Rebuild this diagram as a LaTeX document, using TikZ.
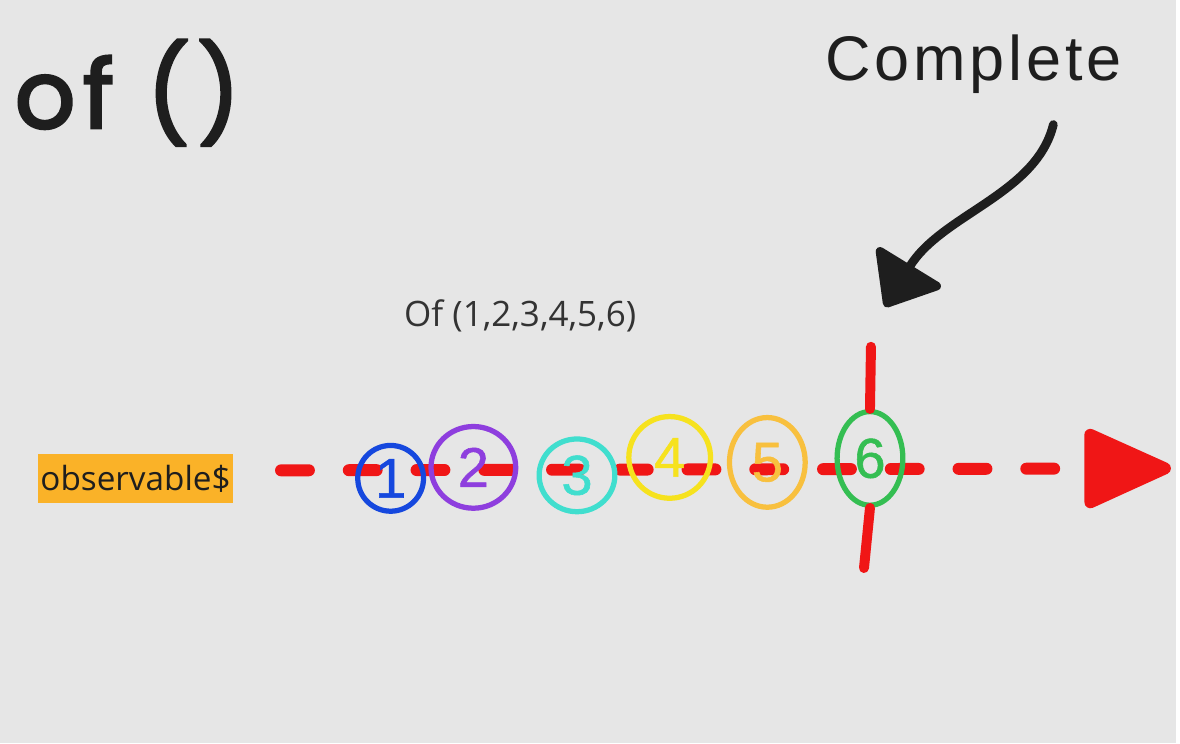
\documentclass[tikz,border=0pt]{standalone}
\usepackage{fontspec}
\setmainfont{Open Sans}
\newfontfamily\markerfont{Poppins}[FakeBold=3, LetterSpace=8]
\newfontfamily\penfont{Liberation Sans}[LetterSpace=6]
\newfontfamily\digitfont{Liberation Sans}[FakeBold=1]
\usetikzlibrary{arrows.meta,shapes.geometric}

\definecolor{paper}{RGB}{230,230,230}
\definecolor{ink}{RGB}{30,30,30}
\definecolor{txtgray}{RGB}{51,51,51}
\definecolor{streamred}{RGB}{240,22,22}
\definecolor{obsorange}{RGB}{250,178,40}
\definecolor{mblue}{RGB}{22,72,222}
\definecolor{mpurple}{RGB}{142,62,222}
\definecolor{mcyan}{RGB}{64,222,206}
\definecolor{myellow}{RGB}{246,226,30}
\definecolor{morange}{RGB}{248,192,62}
\definecolor{mgreen}{RGB}{52,190,82}

\begin{document}
\begin{tikzpicture}[x=0.02cm,y=-0.02cm]
            \tikzstyle{marble} = [ellipse, line width=3pt, inner sep=0pt, font=\digitfont\fontsize{32}{32}\selectfont]
            \tikzstyle{timeline} = [draw=streamred, line width=0.24cm, line cap=round, dash pattern=on 0.56cm off 0.8cm, -{Triangle[length=1.92cm,width=1.66cm,round]}]
            \tikzstyle{stopline} = [draw=streamred, line width=0.2cm, line cap=round]
            \tikzstyle{pointer} = [draw=ink, line width=5pt, line cap=round, -{Triangle[length=1.04cm,width=1.66cm,round]}]

            \fill[paper] (0,0) rectangle (1180,746);

            \node (title) at (128,93) [text=ink, font=\markerfont\fontsize{54}{60}\selectfont] {of ()};
            \node (cmp) at (977,64) [text=ink, font=\penfont\fontsize{36}{42}\selectfont] {Complete};
            \node (label) at (522,317) [text=txtgray, font=\fontsize{20}{24}\selectfont] {Of (1,2,3,4,5,6)};
            \node (obs) at (136,480.5) [fill=obsorange, text=ink, minimum width=3.92cm, minimum height=0.98cm, inner sep=0pt, font=\fontsize{19}{22}\selectfont] {observable\$};

            \coordinate (lstart) at (282,472);
            \coordinate (lend) at (1175,470);
            \coordinate (ctop) at (874,348);
            \coordinate (cbot) at (867,570);
            \coordinate (tail) at (1057,125);
            \coordinate (tip) at (888,308);

            \draw [timeline] (lstart) -- (lend);

            \node (c1) at (392,480) [marble, draw=mblue, text=mblue, minimum width=1.32cm, minimum height=1.32cm] {1};
            \node (c2) at (475,469) [marble, draw=mpurple, text=mpurple, minimum width=1.7cm, minimum height=1.64cm] {2};
            \node (c3) at (579,477) [marble, draw=mcyan, text=mcyan, minimum width=1.52cm, minimum height=1.46cm] {3};
            \node (c4) at (672,459) [marble, draw=myellow, text=myellow, minimum width=1.64cm, minimum height=1.64cm] {4};
            \node (c5) at (770,464) [marble, draw=morange, text=morange, minimum width=1.52cm, minimum height=1.8cm] {5};
            \node (c6) at (873,460) [marble, draw=mgreen, text=mgreen, minimum width=1.32cm, minimum height=1.88cm] {6};

            \draw [stopline] (ctop) -- (c6.north);
            \draw [stopline] (c6.south) -- (cbot);
            \draw [pointer] (tail) .. controls (1040,195) and (945,215) .. (tip);
        \end{tikzpicture}
\end{document}
